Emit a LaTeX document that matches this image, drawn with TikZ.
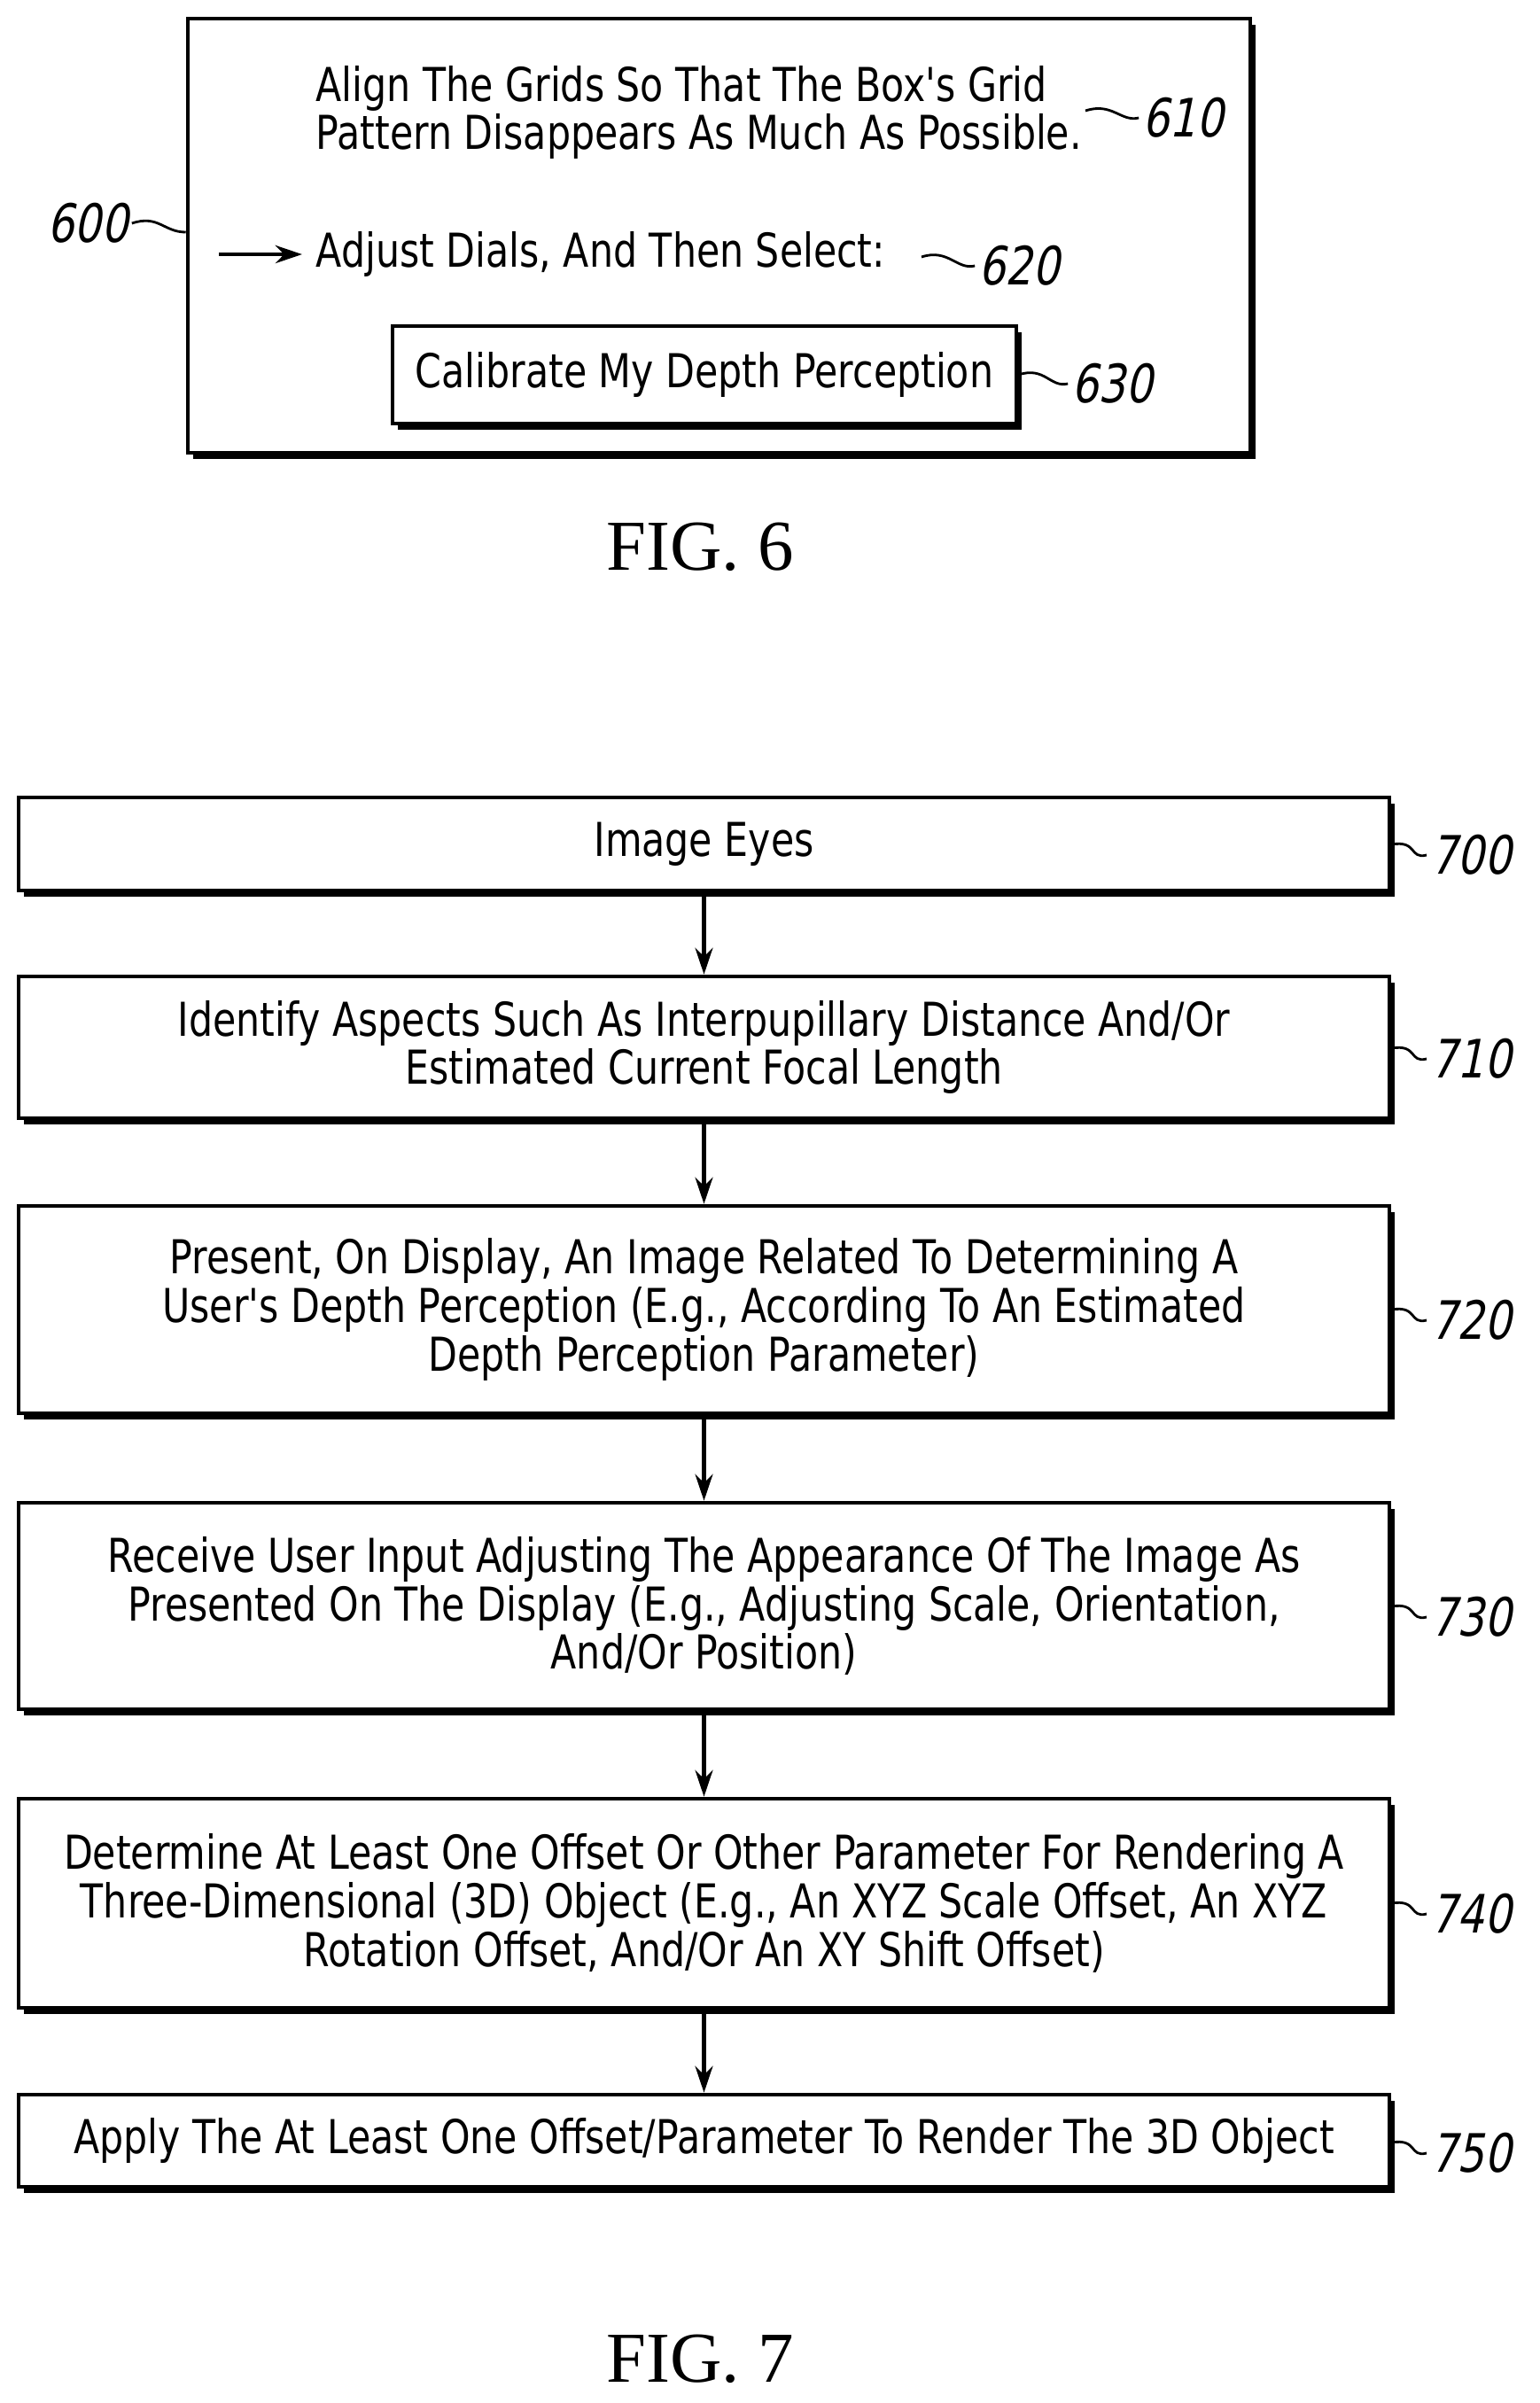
\documentclass[tikz,border=0pt]{standalone}
\usepackage{fontspec}
\setmainfont{Liberation Serif}
\newfontfamily\boxfont[FakeStretch=0.81]{DejaVu Sans}
\newfontfamily\reffont[FakeStretch=0.8,FakeSlant=0.2]{DejaVu Sans}
\usetikzlibrary{shadows,arrows.meta}
\tikzset{
  box/.style={draw, line width=1.3pt, fill=white, align=center,
    font=\boxfont\fontsize{15}{15.6}\selectfont,
    drop shadow={shadow xshift=0.06cm, shadow yshift=-0.07cm, fill=black, opacity=1}},
  reflbl/.style={font=\reffont\fontsize{17}{17}\selectfont, inner sep=1pt},
  squig/.style={line width=0.8pt},
  flow/.style={-{Stealth[length=0.3cm,width=0.2cm]}, line width=1.2pt},
  caption/.style={font=\fontsize{23}{23}\selectfont}
}
\begin{document}
\begin{tikzpicture}
  \useasboundingbox (0,0) rectangle (17.38,-27.12);

  % FIG. 6
  \node[box, minimum width=11.99cm, minimum height=4.9cm] (screen) at (8.115,-2.66) {};
  \node[font=\boxfont\fontsize{15}{15.6}\selectfont, align=left, anchor=west, inner sep=0pt] (align) at (3.56,-1.27)
    {Align The Grids So That The Box's Grid\\Pattern Disappears As Much As Possible.};
  \node[font=\boxfont\fontsize{15}{15.6}\selectfont, anchor=west, inner sep=0pt] (dials) at (3.56,-2.87)
    {Adjust Dials, And Then Select:};
  \node[box, minimum width=7.04cm, minimum height=1.1cm] (calib) at (7.95,-4.23)
    {Calibrate My Depth Perception};
  \coordinate (arrtail) at (2.47,-2.87);
  \draw[flow, line width=1.4pt, shorten >=0.15cm] (arrtail) -- (dials.west);

  \node[reflbl] (r600) at (0.99,-2.52) {600};
  \node[reflbl] (r610) at (13.35,-1.33) {610};
  \node[reflbl] (r620) at (11.5,-3.0) {620};
  \node[reflbl] (r630) at (12.55,-4.33) {630};
  \draw[squig] (r600.east) .. controls +(0.3,0.1) and +(-0.25,0) .. (screen.west |- 0,-2.62);
  \coordinate (s610) at (12.25,-1.25);
  \draw[squig] (s610) .. controls +(0.3,0.1) and +(-0.2,-0.05) .. (r610.west);
  \coordinate (s620) at (10.4,-2.9);
  \draw[squig] (s620) .. controls +(0.3,0.1) and +(-0.2,-0.05) .. (r620.west);
  \draw[squig] (calib.east) .. controls +(0.3,0.1) and +(-0.2,-0.05) .. (r630.west);

  \node[caption] (fig6) at (7.9,-6.17) {FIG. 6};

  % FIG. 7
  \node[box, minimum width=15.47cm, minimum height=1.05cm] (eyes) at (7.945,-9.525) {Image Eyes};
  \node[box, minimum width=15.47cm, minimum height=1.60cm] (ident) at (7.945,-11.82)
    {Identify Aspects Such As Interpupillary Distance And/Or\\Estimated Current Focal Length};
  \node[box, minimum width=15.47cm, minimum height=2.34cm] (present) at (7.945,-14.78)
    {Present, On Display, An Image Related To Determining A\\User's Depth Perception (E.g., According To An Estimated\\Depth Perception Parameter)};
  \node[box, minimum width=15.47cm, minimum height=2.33cm] (input) at (7.945,-18.125)
    {Receive User Input Adjusting The Appearance Of The Image As\\Presented On The Display (E.g., Adjusting Scale, Orientation,\\And/Or Position)};
  \node[box, minimum width=15.47cm, minimum height=2.36cm] (offset) at (7.945,-21.48)
    {Determine At Least One Offset Or Other Parameter For Rendering A\\Three-Dimensional (3D) Object (E.g., An XYZ Scale Offset, An XYZ\\Rotation Offset, And/Or An XY Shift Offset)};
  \node[box, minimum width=15.47cm, minimum height=1.04cm] (apply) at (7.945,-24.16)
    {Apply The At Least One Offset/Parameter To Render The 3D Object};

  \foreach \a/\b in {eyes/ident, ident/present, present/input, input/offset, offset/apply}
    \draw[flow] (\a.south) -- (\b.north);

  \foreach \n/\r/\y in {eyes/700/-9.65, ident/710/-11.95, present/720/-14.9,
                        input/730/-18.25, offset/740/-21.6, apply/750/-24.3} {
    \node[reflbl, anchor=west] (r\r) at (16.1,\y) {\r};
    \draw[squig] (\n.east |- 0,\y+0.12) .. controls +(0.3,0.05) and +(-0.2,-0.05) .. (r\r.west);
  }

  \node[caption] (fig7) at (7.9,-26.62) {FIG. 7};
\end{tikzpicture}
\end{document}
